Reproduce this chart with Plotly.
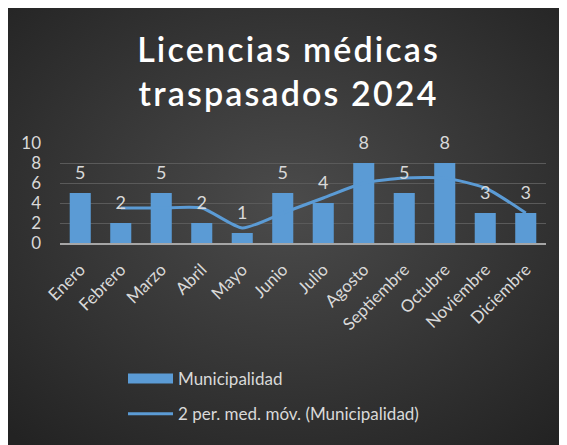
import base64
import plotly.graph_objects as go

meses = ["Enero", "Febrero", "Marzo", "Abril", "Mayo", "Junio", "Julio",
         "Agosto", "Septiembre", "Octubre", "Noviembre", "Diciembre"]
municipalidad = [5, 2, 5, 2, 1, 5, 4, 8, 5, 8, 3, 3]
# media móvil de 2 periodos (como la muestra Excel)
media_movil = [None, 3.5, 3.5, 3.5, 1.5, 3, 4.5, 6, 6.5, 6.5, 5.5, 3]

AZUL = "#5b9bd5"
GRIS = "#d9d9d9"

# la página deja 8px de margen, así que la figura es algo más pequeña
W, H = 559, 437
L, R, T, B = 52, 21, 135, 202
pw = W - L - R
ph = H - T - B

# fondo degradado radial (oscuro), como el estilo de Excel
svg = """<svg xmlns='http://www.w3.org/2000/svg' width='559' height='437' preserveAspectRatio='none'>
<defs><radialGradient id='g' cx='50%' cy='45%' r='72%'>
<stop offset='0%' stop-color='#4b4b4b'/><stop offset='100%' stop-color='#232323'/>
</radialGradient></defs><rect width='559' height='437' fill='url(#g)'/></svg>"""
fondo = "data:image/svg+xml;base64," + base64.b64encode(svg.encode()).decode()

titulo = "Licencias médicas\ntraspasados 2024"
titulo = "\u200a".join(titulo).replace("\u200a\n\u200a", "<br>")

fig = go.Figure()
fig.add_trace(go.Bar(
    x=meses, y=municipalidad, name="Municipalidad",
    marker=dict(color=AZUL, line=dict(width=0)),
    width=0.52, showlegend=False,
))
fig.add_trace(go.Scatter(
    x=meses, y=media_movil, name="2 per. med. móv. (Municipalidad)",
    mode="lines", line=dict(color=AZUL, width=3, shape="spline", smoothing=0.6),
    showlegend=False,
))
# etiquetas de datos sobre las barras
fig.add_trace(go.Scatter(
    x=meses, y=municipalidad, mode="markers+text",
    text=[str(v) for v in municipalidad], textposition="top center",
    textfont=dict(color=GRIS, size=18),
    marker=dict(size=14, opacity=0), cliponaxis=False,
    showlegend=False, hoverinfo="skip",
))
# entradas de la leyenda (rectángulo ancho para la serie de barras)
fig.add_trace(go.Scatter(
    x=[None], y=[None], mode="lines", name="Municipalidad",
    line=dict(color=AZUL, width=12), legendgroup="a",
))
fig.add_trace(go.Scatter(
    x=[None], y=[None], mode="lines", name="2 per. med. móv. (Municipalidad)",
    line=dict(color=AZUL, width=3), legendgroup="b",
))

fig.update_layout(
    width=W, height=H,
    margin=dict(l=L, r=R, t=T, b=B, autoexpand=False),
    paper_bgcolor="white",
    plot_bgcolor="rgba(0,0,0,0)",
    font=dict(family="Lato, Open Sans, sans-serif", color=GRIS),
    title=dict(
        text=titulo,
        x=0.5, xref="container", yref="container", y=1 - 54 / H, yanchor="middle",
        font=dict(size=34, color="white", family="Lato, Open Sans, sans-serif",
                  weight=600),
    ),
    showlegend=True,
    legend=dict(
        x=(115 - L) / pw, y=(H - B - 353) / ph, xanchor="left", yanchor="top",
        font=dict(size=17, color=GRIS),
        bgcolor="rgba(0,0,0,0)", tracegroupgap=10, itemwidth=45,
    ),
    images=[dict(
        source=fondo, xref="paper", yref="paper",
        x=-L / pw, y=(H - B) / ph, sizex=W / pw, sizey=H / ph,
        xanchor="left", yanchor="top", sizing="stretch", layer="below",
    )],
)
fig.update_xaxes(
    range=[-0.5, len(meses) - 0.5],
    tickangle=-45, tickfont=dict(size=17, color=GRIS),
    showline=True, linecolor="#a6a6a6", linewidth=2, ticks="",
    showgrid=False, automargin=False, ticklabelstandoff=8,
)
fig.update_yaxes(
    range=[0, 10], dtick=2, tickfont=dict(size=17, color=GRIS),
    gridcolor="#5a5a5a", gridwidth=1, zeroline=False, ticks="",
    ticklabelstandoff=18, automargin=False,
)

fig.write_html("out.html")
